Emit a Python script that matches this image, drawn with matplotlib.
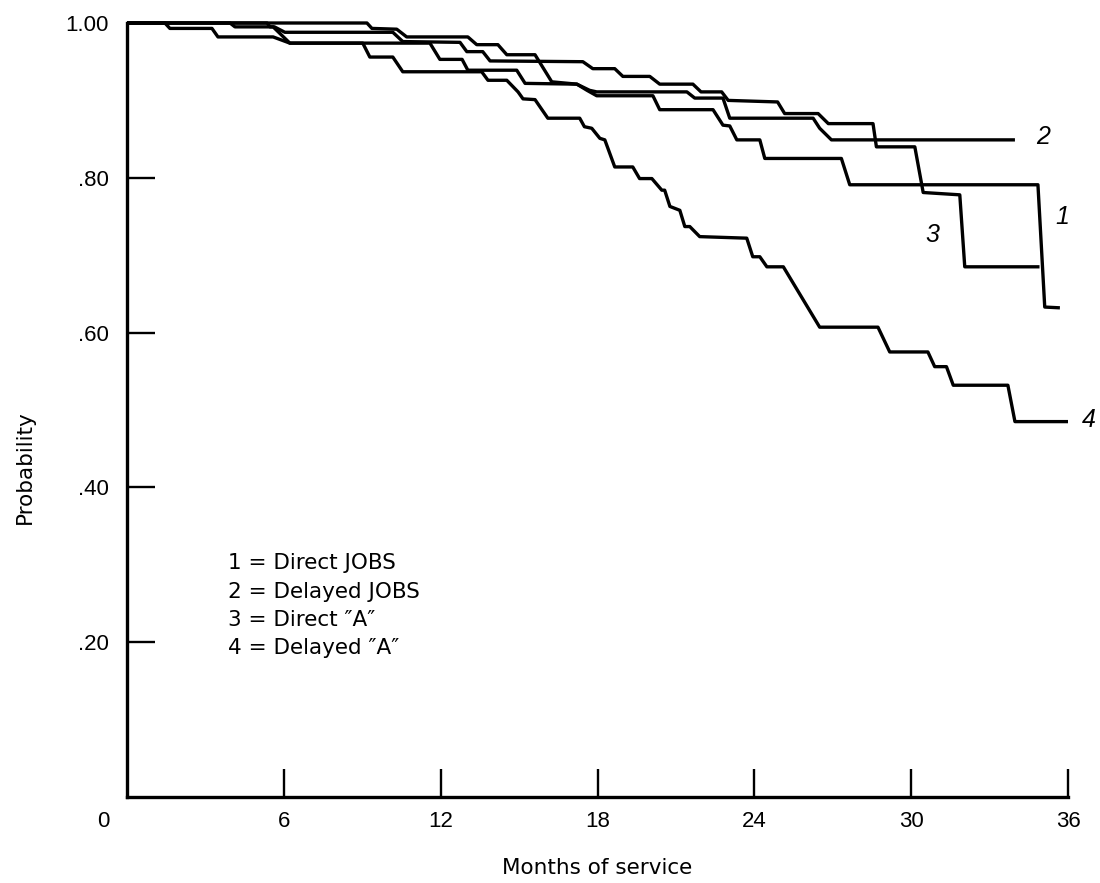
import matplotlib
matplotlib.use("Agg")
import matplotlib.pyplot as plt

plt.rcParams['font.family'] = ['Liberation Sans', 'DejaVu Sans']

# ---- data (months of service, probability) ----
c1_x = [0, 3.94, 4.13, 5.59, 6.23, 11.59, 11.97, 12.82, 13.04, 14.91, 15.23, 17.21, 17.60, 17.97,
        20.12, 20.38, 22.42, 22.80, 23.06, 23.33, 24.21, 24.40, 27.33, 27.65, 34.85, 35.11, 35.69]
c1_y = [1.0, 1.0, .995, .995, .974, .974, .953, .953, .939, .939, .922, .921, .913, .906,
        .906, .888, .888, .868, .867, .849, .849, .825, .825, .791, .791, .633, .632]

c2_x = [0, 9.18, 9.37, 10.32, 10.70, 13.04, 13.38, 14.19, 14.53, 15.61, 16.25, 17.21, 17.70, 17.97,
        21.42, 21.72, 22.80, 23.06, 26.25, 26.50, 26.95, 33.97]
c2_y = [1.0, 1.0, .993, .992, .982, .982, .972, .972, .959, .959, .924, .921, .913, .911,
        .911, .903, .903, .877, .877, .864, .849, .849]

c3_x = [0, 5.36, 5.47, 5.64, 6.04, 10.17, 10.55, 12.74, 13.00, 13.61, 13.89, 17.44, 17.82, 18.66,
        18.97, 20.00, 20.38, 21.65, 21.96, 22.75, 23.00, 24.89, 25.16, 26.44, 26.83, 28.54, 28.67,
        30.14, 30.46, 31.86, 32.05, 34.91]
c3_y = [1.0, 1.0, .995, .995, .988, .988, .976, .975, .963, .963, .951, .950, .941, .941,
        .931, .931, .921, .921, .911, .911, .900, .898, .883, .883, .870, .870, .840,
        .840, .781, .778, .685, .685]

c4_x = [0, 1.45, 1.64, 3.25, 3.48, 5.59, 6.23, 9.02, 9.29, 10.17, 10.55, 13.57, 13.81, 14.53,
        14.96, 15.15, 15.61, 16.10, 17.32, 17.50, 17.78, 18.09, 18.28, 18.66, 19.35, 19.61, 20.08,
        20.46, 20.57, 20.77, 21.15, 21.34, 21.53, 21.91, 23.71, 23.94, 24.21, 24.48, 25.11, 26.50,
        28.73, 29.18, 30.64, 30.90, 31.35, 31.61, 33.70, 33.97, 36.0]
c4_y = [1.0, 1.0, .993, .993, .982, .982, .974, .974, .956, .956, .937, .937, .926, .926,
        .911, .902, .901, .877, .877, .866, .864, .851, .849, .814, .814, .799, .799,
        .784, .784, .763, .758, .737, .737, .724, .722, .698, .698, .685, .685, .607,
        .607, .575, .575, .556, .556, .532, .532, .485, .485]

curve_labels = ["1", "2", "3", "4"]
label_x = [35.8, 35.05, 30.8, 36.8]
label_y = [0.749, 0.853, 0.726, 0.487]

legend_lines = ["1 = Direct JOBS", "2 = Delayed JOBS",
                "3 = Direct \u2033A\u2033", "4 = Delayed \u2033A\u2033"]

x_ticks = [6, 12, 18, 24, 30, 36]
x_ticklabels = ["6", "12", "18", "24", "30", "36"]
y_ticks = [0.2, 0.4, 0.6, 0.8, 1.0]
y_ticklabels = [".20", ".40", ".60", ".80", "1.00"]

# ---- figure ----
W, H = 1100, 883
fig = plt.figure(figsize=(W / 100, H / 100), dpi=100)
ax = fig.add_axes([127 / W, (H - 797) / H, (1068 - 127) / W, (797 - 23) / H])

lw = 2.4
for xs, ys in [(c1_x, c1_y), (c2_x, c2_y), (c3_x, c3_y), (c4_x, c4_y)]:
    ax.plot(xs, ys, color='black', lw=lw, solid_joinstyle='round',
            solid_capstyle='butt', clip_on=False)

ax.set_xlim(0, 36)
ax.set_ylim(0, 1.0)
for s in ['top', 'right']:
    ax.spines[s].set_visible(False)
for s in ['left', 'bottom']:
    ax.spines[s].set_linewidth(2.4)
    ax.spines[s].set_capstyle('projecting')

ax.set_xticks(x_ticks)
ax.set_xticklabels(x_ticklabels, fontsize=16)
ax.set_yticks(y_ticks)
ax.set_yticklabels(y_ticklabels, fontsize=16)
ax.tick_params(axis='both', direction='in', length=20, width=1.7, color='black')
ax.tick_params(axis='x', pad=10)
ax.tick_params(axis='y', pad=13)
ax.yaxis.get_major_ticks()[-1].tick1line.set_visible(False)

ax.annotate("0", xy=(0, 0), xycoords='data', xytext=(-24, -14), textcoords='offset pixels',
            fontsize=16, ha='center', va='top')

for t, x, y in zip(curve_labels, label_x, label_y):
    ax.text(x, y, t, fontsize=18, style='italic', ha='center', va='center', clip_on=False)

for i, t in enumerate(legend_lines):
    ax.text(3.85, 0.302 - i * 0.0365, t, fontsize=15.5, ha='left', va='center',
            family=['DejaVu Sans'])

fig.text(25 / W, 1 - 467 / H, "Probability", rotation=90, fontsize=15.5, ha='center',
         va='center', family=['DejaVu Sans'])
fig.text(597 / W, 1 - 868 / H, "Months of service", fontsize=15.5, ha='center',
         va='center', family=['DejaVu Sans'])

fig.savefig("out.png", dpi=100, facecolor='white')
